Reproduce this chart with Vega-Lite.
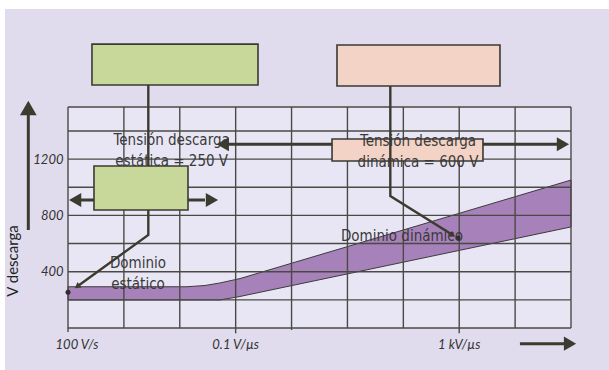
{
  "$schema": "https://vega.github.io/schema/vega-lite/v6.json",
  "width": 503,
  "height": 221,
  "autosize": {"type": "none"},
  "padding": {"left": 68, "top": 107, "right": 38, "bottom": 42},
  "background": "white",
  "config": {"view": {"stroke": null}},
  "datasets": {
    "bg": [{"x": 7.46, "x2": 1e13, "y": 2266, "y2": -400}],
    "plot": [{"x": 100, "x2": 1e11, "y": 0, "y2": 1570}],
    "band": [
      {"x": 100, "y": 293, "y2": 199},
      {"x": 13460, "y": 293, "y2": 199},
      {"x": 28250, "y": 302, "y2": 199},
      {"x": 52500, "y": 320, "y2": 199},
      {"x": 119400, "y": 351, "y2": 224},
      {"x": 1e11, "y": 1051, "y2": 718}
    ],
    "vgrid": [
      {"x": 1e2, "y": 0, "y2": 1570}, {"x": 1e3, "y": 0, "y2": 1570}, {"x": 1e4, "y": 0, "y2": 1570},
      {"x": 1e5, "y": 0, "y2": 1570}, {"x": 1e6, "y": 0, "y2": 1570}, {"x": 1e7, "y": 0, "y2": 1570},
      {"x": 1e8, "y": 0, "y2": 1570}, {"x": 1e9, "y": 0, "y2": 1570}, {"x": 1e10, "y": 0, "y2": 1570},
      {"x": 1e11, "y": 0, "y2": 1570}
    ],
    "hgrid": [
      {"x": 100, "x2": 1e11, "y": 0}, {"x": 100, "x2": 1e11, "y": 200}, {"x": 100, "x2": 1e11, "y": 400},
      {"x": 100, "x2": 1e11, "y": 600}, {"x": 100, "x2": 1e11, "y": 800}, {"x": 100, "x2": 1e11, "y": 1000},
      {"x": 100, "x2": 1e11, "y": 1200}, {"x": 100, "x2": 1e11, "y": 1400}, {"x": 100, "x2": 1e11, "y": 1570}
    ],
    "ticks": [
      {"x": 100, "y": 0, "y2": -28}, {"x": 1e5, "y": 0, "y2": -38},
      {"x": 1e6, "y": 0, "y2": -14}, {"x": 1e9, "y": 0, "y2": -38}
    ],
    "greenLine": [
      {"k": 0, "x": 2735, "y": 1726}, {"k": 1, "x": 2735, "y": 661}, {"k": 2, "x": 146, "y": 295}
    ],
    "peachLine": [
      {"k": 0, "x": 5.85e7, "y": 1719}, {"k": 1, "x": 5.85e7, "y": 938}, {"k": 2, "x": 7.64e8, "y": 660}
    ],
    "hshafts": [
      {"x": 56900, "x2": 7.19e10, "y": 1305},
      {"x": 164, "x2": 28200, "y": 909},
      {"x": 1.22e10, "x2": 7.8e10, "y": -111.5}
    ],
    "vshaft": [{"x": 19.5, "y": 696, "y2": 1513}],
    "boxes": [
      {"x": 268.5, "x2": 251000, "y": 1726, "y2": 2017, "kind": "estática"},
      {"x": 6.5e6, "x2": 5.36e9, "y": 1719, "y2": 2010, "kind": "dinámica"},
      {"x": 291.7, "x2": 14030, "y": 838, "y2": 1151, "kind": "estática"},
      {"x": 5.3e6, "x2": 2.66e9, "y": 1186, "y2": 1343, "kind": "dinámica"}
    ],
    "heads": [
      {"x": 58900, "y": 1305, "dir": "left"},
      {"x": 7.17e10, "y": 1305, "dir": "right"},
      {"x": 134, "y": 909, "dir": "left"},
      {"x": 37600, "y": 909, "dir": "right"},
      {"x": 9.6e10, "y": -111.5, "dir": "right"}
    ],
    "axisHead": [{"x": 19.5, "y": 1563}],
    "gHead": [{"x": 146, "y": 295}],
    "pHead": [{"x": 7.64e8, "y": 660}],
    "dots": [{"x": 100, "y": 254}, {"x": 9.5e8, "y": 639}],
    "texts": [
      {"x": 7160, "y": 1336, "t": "Tensión descarga\nestática = 250 V"},
      {"x": 1.83e8, "y": 1331, "t": "Tensión descarga\ndinámica = 600 V"},
      {"x": 9.46e7, "y": 654, "t": "Dominio dinámico"},
      {"x": 1788, "y": 464, "t": "Dominio\nestático"}
    ],
    "xlabels": [
      {"x": 145, "y": -121, "t": "100 V/s"},
      {"x": 1e5, "y": -121, "t": "0.1 V/µs"},
      {"x": 1e9, "y": -121, "t": "1 kV/µs"}
    ],
    "ylabel": [{"x": 10.4, "y": 476, "t": "V descarga"}]
  },
  "encoding": {
    "x": {"field": "x", "type": "quantitative", "scale": {"type": "log", "domain": [100, 1e11], "nice": false}, "axis": null},
    "y": {
      "field": "y", "type": "quantitative",
      "scale": {"domain": [0, 1570], "nice": false, "zero": false},
      "axis": {
        "values": [400, 800, 1200], "format": "d", "domain": false, "ticks": false, "grid": false, "title": null,
        "labelFont": "Lato", "labelFontStyle": "italic", "labelFontSize": 13, "labelColor": "#333333",
        "labelPadding": 5, "zindex": 1
      }
    }
  },
  "layer": [
    {"data": {"name": "bg"}, "mark": {"type": "rect", "color": "#e0dcee"},
     "encoding": {"x2": {"field": "x2"}, "y2": {"field": "y2"}}},
    {"data": {"name": "plot"}, "mark": {"type": "rect", "color": "#e8e6f4"},
     "encoding": {"x2": {"field": "x2"}, "y2": {"field": "y2"}}},
    {"data": {"name": "band"}, "mark": {"type": "area", "color": "#a781b9", "opacity": 1, "stroke": "#3e3a3e", "strokeWidth": 1},
     "encoding": {"y2": {"field": "y2"}}},
    {"data": {"name": "vgrid"}, "mark": {"type": "rule", "color": "#4a4a45", "strokeWidth": 1.4},
     "encoding": {"y2": {"field": "y2"}}},
    {"data": {"name": "hgrid"}, "mark": {"type": "rule", "color": "#4a4a45", "strokeWidth": 1.4},
     "encoding": {"x2": {"field": "x2"}}},
    {"data": {"name": "ticks"}, "mark": {"type": "rule", "color": "#4a4a45", "strokeWidth": 1.4},
     "encoding": {"y2": {"field": "y2"}}},
    {"data": {"name": "greenLine"}, "mark": {"type": "line", "color": "#3b3b30", "strokeWidth": 2.4, "strokeJoin": "miter"},
     "encoding": {"order": {"field": "k"}}},
    {"data": {"name": "hshafts"}, "mark": {"type": "rule", "color": "#3b3b30", "strokeWidth": 3},
     "encoding": {"x2": {"field": "x2"}}},
    {"data": {"name": "vshaft"}, "mark": {"type": "rule", "color": "#3b3b30", "strokeWidth": 3},
     "encoding": {"y2": {"field": "y2"}}},
    {"data": {"name": "boxes"}, "mark": {"type": "rect", "stroke": "#3a3a35", "strokeWidth": 1.6, "opacity": 1},
     "encoding": {"x2": {"field": "x2"}, "y2": {"field": "y2"},
       "color": {"field": "kind", "type": "nominal", "scale": {"domain": ["estática", "dinámica"], "range": ["#c8d79a", "#f3d3c6"]}, "legend": null}}},
    {"data": {"name": "peachLine"}, "mark": {"type": "line", "color": "#3b3b30", "strokeWidth": 2.4, "strokeJoin": "miter"},
     "encoding": {"order": {"field": "k"}}},
    {"data": {"name": "heads"}, "mark": {"type": "point", "filled": true, "opacity": 1, "color": "#3b3b30", "size": 200},
     "encoding": {"shape": {"field": "dir", "type": "nominal", "scale": {"domain": ["up", "left", "right"], "range": ["triangle-up", "triangle-left", "triangle-right"]}, "legend": null}}},
    {"data": {"name": "axisHead"}, "mark": {"type": "point", "filled": true, "opacity": 1, "color": "#3b3b30", "size": 280, "shape": "triangle-up"}},
    {"data": {"name": "gHead"}, "mark": {"type": "point", "filled": true, "opacity": 1, "color": "#3b3b30", "size": 45, "shape": "triangle-up", "angle": 234}},
    {"data": {"name": "pHead"}, "mark": {"type": "point", "filled": true, "opacity": 1, "color": "#3b3b30", "size": 45, "shape": "triangle-up", "angle": 122}},
    {"data": {"name": "dots"}, "mark": {"type": "circle", "opacity": 1, "color": "#2e2e2a", "size": 25}},
    {"data": {"name": "texts"}, "mark": {"type": "text", "font": "DejaVu Sans Condensed, sans-serif", "fontSize": 15, "color": "#3a3a3a", "lineBreak": "\n", "lineHeight": 21, "align": "center", "baseline": "middle"},
     "encoding": {"text": {"field": "t"}}},
    {"data": {"name": "xlabels"}, "mark": {"type": "text", "font": "Lato", "fontStyle": "italic", "fontSize": 13, "color": "#333333", "align": "center", "baseline": "middle"},
     "encoding": {"text": {"field": "t"}}},
    {"data": {"name": "ylabel"}, "mark": {"type": "text", "font": "Lato", "fontSize": 15, "color": "#222222", "angle": 270, "align": "center", "baseline": "middle"},
     "encoding": {"text": {"field": "t"}}}
  ]
}
